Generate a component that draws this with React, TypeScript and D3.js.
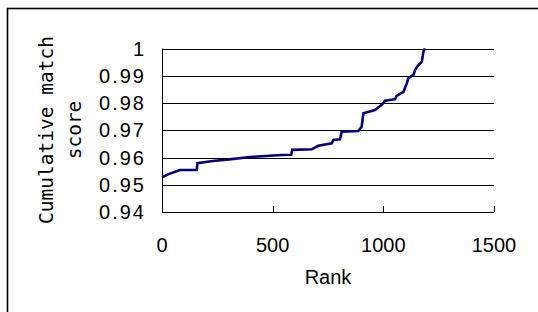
import React, { useEffect, useRef } from 'react';
import * as d3 from 'd3';

// rank / cumulative match score pairs
const ranks = [0, 27, 81, 157, 160, 230, 315, 398, 541, 584, 588, 676, 706, 767, 774, 804, 812, 887, 902, 910, 962, 993, 1008, 1053, 1060, 1091, 1106, 1113, 1136, 1143, 1158, 1174, 1181, 1188];
const scores = [0.9527, 0.9538, 0.9554, 0.9554, 0.9579, 0.9587, 0.9594, 0.9602, 0.9609, 0.961, 0.9628, 0.963, 0.9643, 0.9652, 0.9664, 0.9667, 0.9695, 0.9697, 0.9713, 0.9762, 0.9774, 0.9793, 0.9808, 0.9814, 0.9826, 0.9841, 0.9872, 0.9891, 0.9903, 0.9921, 0.9939, 0.9952, 0.9988, 1.0];

const xTicks = [0, 500, 1000, 1500];
const yTicks = [0.94, 0.95, 0.96, 0.97, 0.98, 0.99, 1];
const yTickLabels = ['0.94', '0.95', '0.96', '0.97', '0.98', '0.99', '1'];
const yTitle = ['Cumulative match', 'score'];
const xTitle = 'Rank';

const App = () => {
  const ref = useRef<SVGSVGElement>(null);

  useEffect(() => {
    d3.select(ref.current).selectAll('*').remove();
    const svg = d3.select(ref.current);

    const width = 538;
    const height = 312;
    const margin = { top: 48.5, right: 44, bottom: 100, left: 162 };

    const x = d3.scaleLinear()
      .domain([0, 1500])
      .range([margin.left, width - margin.right]);

    const y = d3.scaleLinear()
      .domain([0.94, 1])
      .range([height - margin.bottom, margin.top]);

    // outer chart border (runs off the right and bottom edges)
    svg.append('rect')
      .attr('x', 7.5)
      .attr('y', 8.5)
      .attr('width', 600)
      .attr('height', 400)
      .attr('fill', 'white')
      .attr('stroke', '#000')
      .attr('stroke-width', 1.6);

    // horizontal grid lines
    svg.append('g')
      .selectAll('line')
      .data(yTicks)
      .enter().append('line')
      .attr('x1', x(0))
      .attr('x2', x(1500))
      .attr('y1', d => Math.round(y(d)) + 0.5)
      .attr('y2', d => Math.round(y(d)) + 0.5)
      .attr('stroke', '#000')
      .attr('stroke-width', 1);

    // left axis line
    svg.append('line')
      .attr('x1', x(0) + 0.5)
      .attr('x2', x(0) + 0.5)
      .attr('y1', y(1))
      .attr('y2', y(0.94))
      .attr('stroke', '#000');

    // x ticks pointing inward
    svg.append('g')
      .selectAll('line')
      .data(xTicks.slice(1))
      .enter().append('line')
      .attr('x1', d => Math.round(x(d)) + 0.5)
      .attr('x2', d => Math.round(x(d)) + 0.5)
      .attr('y1', y(0.94))
      .attr('y2', y(0.94) - 6)
      .attr('stroke', '#000');

    const pts = ranks.map((r, i) => ({ r, s: scores[i] }));
    const line = d3.line<{ r: number; s: number }>()
      .x(d => x(d.r))
      .y(d => y(d.s));

    svg.append('path')
      .datum(pts)
      .attr('fill', 'none')
      .attr('stroke', '#000080')
      .attr('stroke-width', 2.6)
      .attr('d', line);

    // y tick labels
    svg.append('g')
      .selectAll('text')
      .data(yTicks)
      .enter().append('text')
      .attr('x', 146)
      .attr('y', d => y(d) + 7)
      .attr('text-anchor', 'end')
      .attr('font-family', 'Liberation Sans, Arial, sans-serif')
      .attr('font-size', 20)
      .attr('letter-spacing', 2)
      .attr('fill', '#000')
      .text((d, i) => yTickLabels[i]);

    // x tick labels
    svg.append('g')
      .selectAll('text')
      .data(xTicks)
      .enter().append('text')
      .attr('x', d => x(d))
      .attr('y', 252)
      .attr('text-anchor', 'middle')
      .attr('font-family', 'Liberation Sans, Arial, sans-serif')
      .attr('font-size', 20)
      .attr('fill', '#000')
      .text(d => String(d));

    // axis titles
    svg.append('text')
      .attr('x', (x(0) + x(1500)) / 2)
      .attr('y', 284)
      .attr('text-anchor', 'middle')
      .attr('font-family', 'Liberation Sans, Arial, sans-serif')
      .attr('font-size', 20)
      .attr('fill', '#000')
      .text(xTitle);

    svg.append('g')
      .attr('transform', 'translate(53,130) rotate(-90)')
      .selectAll('text')
      .data(yTitle)
      .enter().append('text')
      .attr('x', 0)
      .attr('y', (d, i) => i * 28)
      .attr('text-anchor', 'middle')
      .attr('font-family', 'DejaVu Sans Mono, monospace')
      .attr('font-size', 19.5)
      .attr('fill', '#000')
      .text(d => d);
  }, []);

  return (
    <svg ref={ref} width="538" height="312" style={{ position: 'absolute', left: 0, top: 0, background: 'white' }}></svg>
  );
};

export default App;
